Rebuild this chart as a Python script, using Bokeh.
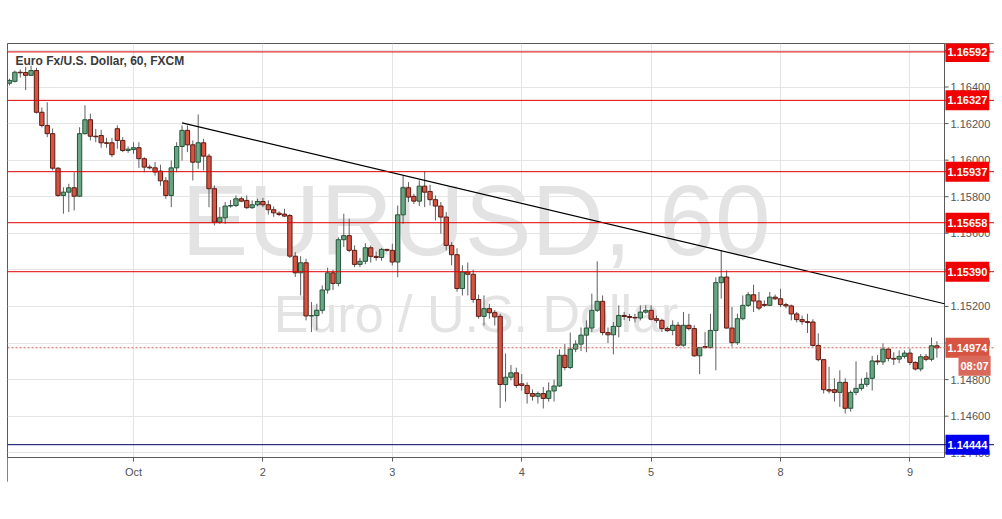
from bokeh.plotting import figure
from bokeh.models import (ColumnDataSource, FixedTicker, PrintfTickFormatter, Span, Label,
                          BoxAnnotation, Range1d)
from bokeh.embed import file_html
from bokeh.resources import INLINE

# ---------------- data ----------------
bar_index = list(range(-23, 150))   # hourly bars; 0 = 1 Oct 00:00, weekend skipped
day_ticks = [0, 24, 48, 72, 96, 120, 144]
day_labels = ["Oct", "2", "3", "4", "5", "8", "9"]
price_ticks = [1.144, 1.146, 1.148, 1.150, 1.152, 1.154, 1.156, 1.158, 1.160, 1.162, 1.164, 1.166]

opens = [
    1.16421, 1.16431, 1.16481, 1.16479, 1.16464, 1.16490, 1.16262, 1.16190, 1.16145, 1.15956,
    1.15807, 1.15825, 1.15849, 1.15803, 1.16145, 1.16221, 1.16131, 1.16135, 1.16095, 1.16095,
    1.16172, 1.16108, 1.16053,
    1.16058, 1.16068, 1.16008, 1.15962, 1.15958, 1.15940, 1.15887, 1.15807, 1.15958, 1.16075,
    1.16163, 1.16084, 1.15989, 1.16095, 1.16022, 1.15844, 1.15661, 1.15685, 1.15749, 1.15752,
    1.15789, 1.15780, 1.15740, 1.15756,
    1.15774, 1.15756, 1.15729, 1.15710, 1.15705, 1.15697, 1.15475, 1.15384, 1.15439, 1.15148,
    1.15150, 1.15179, 1.15290, 1.15384, 1.15326, 1.15565, 1.15587, 1.15507, 1.15430, 1.15447,
    1.15521, 1.15474, 1.15468, 1.15512,
    1.15507, 1.15443, 1.15701, 1.15849, 1.15802, 1.15776, 1.15858, 1.15829, 1.15784, 1.15749,
    1.15689, 1.15534, 1.15483, 1.15298, 1.15389, 1.15376, 1.15238, 1.15146, 1.15188, 1.15166,
    1.15146, 1.14773, 1.14813, 1.14837,
    1.14777, 1.14768, 1.14724, 1.14709, 1.14724, 1.14697, 1.14738, 1.14765, 1.14933, 1.14866,
    1.14967, 1.14994, 1.15043, 1.15082, 1.15179, 1.15228, 1.15057, 1.15045, 1.15091, 1.15151,
    1.15145, 1.15140, 1.15137, 1.15169,
    1.15179, 1.15133, 1.15124, 1.15079, 1.15069, 1.15097, 1.14988, 1.15097, 1.15079, 1.14930,
    1.14980, 1.14975, 1.15069, 1.15330, 1.15361, 1.15082, 1.15002, 1.15133, 1.15206, 1.15264,
    1.15230, 1.15211, 1.15206, 1.15251,
    1.15242, 1.15210, 1.15203, 1.15159, 1.15128, 1.15117, 1.15115, 1.14987, 1.14909, 1.14745,
    1.14745, 1.14730, 1.14785, 1.14643, 1.14730, 1.14752, 1.14774, 1.14807, 1.14902, 1.14897,
    1.14967, 1.14916, 1.14912, 1.14927,
    1.14945, 1.14894, 1.14858, 1.14925, 1.14911, 1.14985,
]
highs = [
    1.16445, 1.16490, 1.16496, 1.16510, 1.16517, 1.16505, 1.16288, 1.16317, 1.16173, 1.15962,
    1.15852, 1.15871, 1.15934, 1.16180, 1.16300, 1.16254, 1.16171, 1.16166, 1.16122, 1.16122,
    1.16190, 1.16126, 1.16075,
    1.16098, 1.16098, 1.16016, 1.15975, 1.15990, 1.15975, 1.15907, 1.15998, 1.16098, 1.16190,
    1.16190, 1.16108, 1.16250, 1.16117, 1.16035, 1.15862, 1.15743, 1.15771, 1.15782, 1.15807,
    1.15800, 1.15807, 1.15780, 1.15789,
    1.15794, 1.15780, 1.15747, 1.15720, 1.15734, 1.15705, 1.15497, 1.15475, 1.15461, 1.15224,
    1.15215, 1.15315, 1.15412, 1.15400, 1.15578, 1.15707, 1.15680, 1.15534, 1.15465, 1.15546,
    1.15534, 1.15500, 1.15520, 1.15515,
    1.15543, 1.15752, 1.15916, 1.15880, 1.15816, 1.15890, 1.15938, 1.15865, 1.15807, 1.15771,
    1.15716, 1.15552, 1.15518, 1.15425, 1.15440, 1.15400, 1.15265, 1.15260, 1.15215, 1.15180,
    1.15160, 1.14943, 1.14880, 1.14865,
    1.14830, 1.14785, 1.14746, 1.14735, 1.14760, 1.14785, 1.14800, 1.14965, 1.14995, 1.15057,
    1.15015, 1.15085, 1.15124, 1.15270, 1.15447, 1.15260, 1.15085, 1.15115, 1.15206, 1.15170,
    1.15160, 1.15160, 1.15206, 1.15206,
    1.15206, 1.15150, 1.15133, 1.15090, 1.15124, 1.15115, 1.15170, 1.15160, 1.15097, 1.14976,
    1.15060, 1.15160, 1.15359, 1.15507, 1.15397, 1.15197, 1.15160, 1.15260, 1.15279, 1.15319,
    1.15279, 1.15233, 1.15279, 1.15265,
    1.15297, 1.15220, 1.15210, 1.15170, 1.15150, 1.15160, 1.15130, 1.15053, 1.14910, 1.14870,
    1.14807, 1.14851, 1.14807, 1.14741, 1.14900, 1.14807, 1.14840, 1.14930, 1.14935, 1.14998,
    1.14970, 1.14950, 1.14960, 1.14960,
    1.14970, 1.14900, 1.14940, 1.14940, 1.15030, 1.15010,
]
lows = [
    1.16409, 1.16425, 1.16451, 1.16383, 1.16460, 1.16255, 1.16179, 1.16126, 1.15944, 1.15800,
    1.15707, 1.15716, 1.15725, 1.15798, 1.16140, 1.16108, 1.16098, 1.16068, 1.16068, 1.16016,
    1.16062, 1.16044, 1.16040,
    1.16035, 1.15958, 1.15934, 1.15950, 1.15915, 1.15860, 1.15789, 1.15743, 1.15934, 1.15998,
    1.16044, 1.15889, 1.15953, 1.15944, 1.15743, 1.15643, 1.15652, 1.15652, 1.15740, 1.15743,
    1.15770, 1.15734, 1.15734, 1.15748,
    1.15743, 1.15703, 1.15690, 1.15694, 1.15690, 1.15465, 1.15361, 1.15260, 1.15124, 1.15060,
    1.15070, 1.15160, 1.15270, 1.15290, 1.15310, 1.15525, 1.15497, 1.15415, 1.15415, 1.15431,
    1.15440, 1.15450, 1.15450, 1.15500,
    1.15425, 1.15360, 1.15652, 1.15771, 1.15760, 1.15749, 1.15743, 1.15752, 1.15670, 1.15598,
    1.15507, 1.15425, 1.15280, 1.15260, 1.15260, 1.15220, 1.15133, 1.15096, 1.15133, 1.15096,
    1.14645, 1.14679, 1.14796, 1.14755,
    1.14740, 1.14669, 1.14685, 1.14669, 1.14642, 1.14679, 1.14680, 1.14760, 1.14851, 1.14858,
    1.14950, 1.14956, 1.14950, 1.15060, 1.15170, 1.15042, 1.15000, 1.14938, 1.15031, 1.15125,
    1.15120, 1.15113, 1.15124, 1.15160,
    1.15124, 1.15110, 1.15060, 1.15060, 1.15042, 1.14980, 1.14980, 1.15069, 1.14925, 1.14830,
    1.14970, 1.14970, 1.14851, 1.15243, 1.15078, 1.14980, 1.14990, 1.15124, 1.15197, 1.15170,
    1.15179, 1.15197, 1.15206, 1.15235,
    1.15197, 1.15190, 1.15124, 1.15113, 1.15100, 1.15055, 1.14980, 1.14900, 1.14724, 1.14724,
    1.14680, 1.14651, 1.14615, 1.14625, 1.14715, 1.14740, 1.14760, 1.14740, 1.14880, 1.14880,
    1.14900, 1.14880, 1.14890, 1.14915,
    1.14880, 1.14850, 1.14845, 1.14900, 1.14900, 1.14920,
]
closes = [
    1.16436, 1.16481, 1.16478, 1.16464, 1.16490, 1.16262, 1.16190, 1.16145, 1.15956, 1.15807,
    1.15825, 1.15849, 1.15803, 1.16145, 1.16221, 1.16131, 1.16128, 1.16095, 1.16092, 1.16030,
    1.16108, 1.16053, 1.16060,
    1.16068, 1.16008, 1.15962, 1.15958, 1.15935, 1.15887, 1.15807, 1.15958, 1.16075, 1.16163,
    1.16084, 1.15989, 1.16095, 1.16022, 1.15844, 1.15661, 1.15685, 1.15749, 1.15752, 1.15789,
    1.15776, 1.15740, 1.15756, 1.15774,
    1.15756, 1.15729, 1.15712, 1.15703, 1.15694, 1.15475, 1.15384, 1.15439, 1.15148, 1.15150,
    1.15179, 1.15290, 1.15384, 1.15326, 1.15565, 1.15587, 1.15507, 1.15430, 1.15447, 1.15521,
    1.15474, 1.15468, 1.15512, 1.15507,
    1.15443, 1.15701, 1.15849, 1.15798, 1.15776, 1.15858, 1.15825, 1.15784, 1.15749, 1.15689,
    1.15534, 1.15483, 1.15298, 1.15389, 1.15376, 1.15238, 1.15146, 1.15188, 1.15166, 1.15143,
    1.14773, 1.14813, 1.14837, 1.14768,
    1.14768, 1.14724, 1.14709, 1.14724, 1.14697, 1.14738, 1.14765, 1.14933, 1.14866, 1.14967,
    1.14994, 1.15043, 1.15082, 1.15179, 1.15228, 1.15057, 1.15045, 1.15091, 1.15151, 1.15145,
    1.15140, 1.15137, 1.15169, 1.15179,
    1.15130, 1.15124, 1.15079, 1.15069, 1.15097, 1.14988, 1.15097, 1.15079, 1.14930, 1.14976,
    1.14975, 1.15069, 1.15330, 1.15361, 1.15082, 1.15002, 1.15133, 1.15206, 1.15264, 1.15230,
    1.15191, 1.15206, 1.15251, 1.15242,
    1.15210, 1.15203, 1.15159, 1.15128, 1.15117, 1.15112, 1.14987, 1.14909, 1.14745, 1.14738,
    1.14730, 1.14785, 1.14643, 1.14730, 1.14752, 1.14774, 1.14807, 1.14902, 1.14897, 1.14967,
    1.14916, 1.14912, 1.14927, 1.14945,
    1.14894, 1.14858, 1.14925, 1.14911, 1.14985, 1.14974,
]

resistance_levels = [1.16592, 1.16327, 1.15937, 1.15658, 1.15390]
support_level = 1.14444
last_price = 1.14974
countdown = "08:07"
trend_idx = [9, 150.41]
trend_price = [1.16204, 1.15215]

title_text = "Euro Fx/U.S. Dollar, 60, FXCM"
watermark_main = "EURUSD, 60"
watermark_sub = "Euro / U.S. Dollar"

# ---------------- layout / styling ----------------
UP_FILL, UP_LINE = "#6ba583", "#225437"
DN_FILL, DN_LINE = "#d75442", "#5b1a13"
WICK = "#5f5f61"
AXIS_C = "#5a5a5a"

# price pane (inner) and full framed box (pane + axis strips)
X0, X_AXIS = -23.37, 150.41          # visible bar span of the price pane
Y_TOP, Y_IN_BOT = 1.16638, 1.14374   # visible price span of the price pane
IN_W, IN_H = 937, 414                # pane size in px
FW, FH = 987, 439                    # framed box size in px
px_x = IN_W / (X_AXIS - X0)
px_y = IN_H / (Y_TOP - Y_IN_BOT)
X_END = X0 + FW / px_x
Y_LOW = Y_TOP - FH / px_y

p = figure(frame_width=FW, frame_height=FH, output_backend="svg", toolbar_location=None,
           x_range=Range1d(X0, X_END), y_range=Range1d(Y_LOW, Y_TOP),
           y_axis_location="right",
           min_border=0, min_border_left=7, min_border_top=43,
           min_border_right=0, min_border_bottom=0)
p.background_fill_color = "white"
p.border_fill_color = "white"
p.outline_line_color = AXIS_C
p.outline_line_width = 1

# y axis: labels sit inside the right strip of the box
yax = p.yaxis[0]
yax.ticker = FixedTicker(ticks=price_ticks)
yax.formatter = PrintfTickFormatter(format="%.5f")
yax.major_tick_out = 0
yax.major_tick_in = 0
yax.minor_tick_line_color = None
yax.major_tick_line_color = None
yax.axis_line_color = AXIS_C
yax.major_label_standoff = -44
yax.major_label_text_font = "Liberation Sans"
yax.major_label_text_font_size = "11px"
yax.major_label_text_color = "#555555"

# x axis: drawn at the bottom edge of the price pane
xax = p.xaxis[0]
xax.ticker = FixedTicker(ticks=day_ticks)
xax.major_label_overrides = {t: l for t, l in zip(day_ticks, day_labels)}
xax.fixed_location = Y_IN_BOT
xax.bounds = (X0, X_AXIS)
xax.axis_line_color = AXIS_C
xax.major_tick_line_color = AXIS_C
xax.minor_tick_line_color = None
xax.major_tick_out = 4
xax.major_tick_in = 0
xax.major_label_standoff = 4
xax.major_label_text_font = "Liberation Sans"
xax.major_label_text_font_size = "11px"
xax.major_label_text_color = "#555555"

p.xgrid.grid_line_color = "#e4e4e4"
p.ygrid.grid_line_color = "#e4e4e4"

# hide grid outside the price pane
p.add_layout(BoxAnnotation(left=X_AXIS, fill_color="white", fill_alpha=1.0,
                           line_color=None, level="underlay"))
p.add_layout(BoxAnnotation(top=Y_IN_BOT, fill_color="white", fill_alpha=1.0,
                           line_color=None, level="underlay"))

# watermark
wm_x = (X0 + X_AXIS) / 2
p.add_layout(Label(x=wm_x, y=1.15463, y_offset=38, text=watermark_main, text_align="center",
                   text_baseline="alphabetic", text_font="Liberation Sans",
                   text_font_size="100px", text_color="#e3e3e3", level="underlay"))
p.add_layout(Label(x=wm_x, y=1.15058, y_offset=18, text=watermark_sub, text_align="center",
                   text_baseline="alphabetic", text_font="Liberation Sans",
                   text_font_size="52px", text_color="#e3e3e3", level="underlay"))

# level lines
for lv in resistance_levels:
    p.add_layout(Span(location=lv, dimension="width", line_color="#e00000", line_width=1))
p.add_layout(Span(location=support_level, dimension="width", line_color="#000066", line_width=1))
p.add_layout(Span(location=last_price, dimension="width", line_color="#c8604f",
                  line_width=1, line_dash="2 2"))

# pane right border (price scale line) and its small ticks
p.segment(x0=[X_AXIS], y0=[Y_IN_BOT], x1=[X_AXIS], y1=[Y_TOP], line_color=AXIS_C, line_width=1)
p.segment(x0=[X_AXIS] * len(price_ticks), y0=price_ticks,
          x1=[X_AXIS + 4 / px_x] * len(price_ticks), y1=price_ticks,
          line_color=AXIS_C, line_width=1)

# candles
tops = [max(o, c) for o, c in zip(opens, closes)]
bottoms = [min(o, c) for o, c in zip(opens, closes)]
is_up = [c > o for o, c in zip(opens, closes)]
src = ColumnDataSource(dict(
    x=bar_index, high=highs, low=lows, top=tops, bottom=bottoms,
    fill=[UP_FILL if u else DN_FILL for u in is_up],
    line=[UP_LINE if u else DN_LINE for u in is_up],
))
p.segment(x0="x", y0="high", x1="x", y1="low", source=src, line_color=WICK, line_width=1)
p.vbar(x="x", width=0.8, top="top", bottom="bottom", fill_color="fill",
       line_color="line", line_width=1, source=src)

# trend line
p.line(trend_idx, trend_price, line_color="black", line_width=1.2)

# title
p.add_layout(Label(x=X0, y=Y_TOP, x_offset=8, y_offset=-10, text=title_text,
                   text_baseline="top", text_font="Liberation Sans", text_font_size="12px",
                   text_font_style="bold", text_color="#3a3a3a"))

# price labels on the price scale
def price_box(y, text, bg, dx=1, dy=0, pad=(2, 6)):
    p.add_layout(Label(x=X_AXIS, y=y, x_offset=dx, y_offset=dy, text=text,
                       text_align="left", text_baseline="middle",
                       text_font="Liberation Sans", text_font_size="11px",
                       text_font_style="bold", text_color="white",
                       background_fill_color=bg, padding=pad))

for lv in resistance_levels:
    price_box(lv, f"{lv:.5f}", "#f00000")
price_box(support_level, f"{support_level:.5f}", "#0000f0")
price_box(last_price, f"{last_price:.5f}", "#d75442")
price_box(last_price, countdown, "#d9695a", dx=14, dy=-18, pad=(2, 4))

open("out.html", "w").write(file_html(p, INLINE))
